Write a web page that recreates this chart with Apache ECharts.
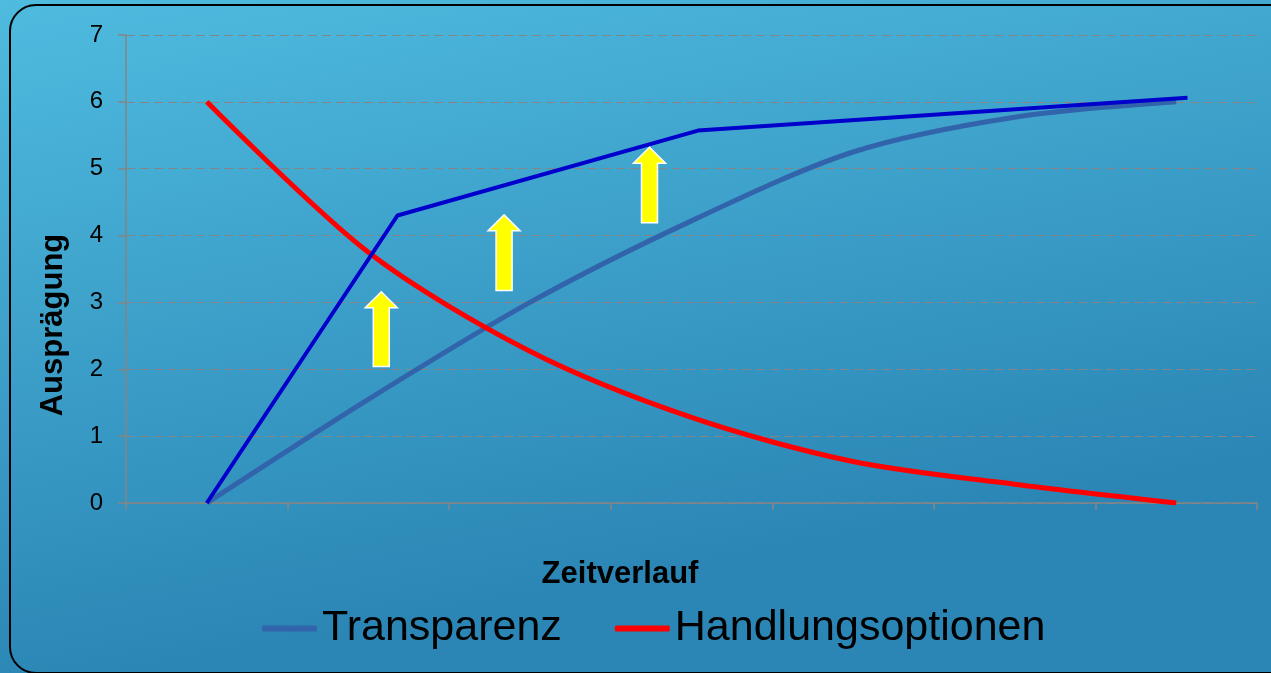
<!DOCTYPE html>
<html>
<head>
<meta charset="utf-8">
<script src="https://cdn.jsdelivr.net/npm/echarts@6/dist/echarts.min.js"></script>
<style>
  html, body { margin: 0; padding: 0; }
  #chart { width: 1271px; height: 673px; }
</style>
</head>
<body>
<div id="chart"></div>
<script>
// Zeitpunkte (ohne Beschriftung)
const categories = ['1', '2', '3', '4', '5', '6', '7']
const transparenz = [0, 1.55, 3.0, 4.22, 5.25, 5.77, 6.0]
const handlungsoptionen = [6, 3.75, 2.27, 1.28, 0.62, 0.28, 0]
// blaue Hilfslinie, x in Kategorie-Einheiten (0 = erster Zeitpunkt)
const zielLinie = [[0, 0], [1.18, 4.3], [3.04, 5.57], [6.07, 6.06]]
// gelbe Pfeile: [x, unten, oben]
const pfeile = [[1.08, 2.04, 3.16], [1.84, 3.18, 4.31], [2.74, 4.19, 5.32]]
const yTicks = { min: 0, max: 7, interval: 1 }

const chart = echarts.init(document.getElementById('chart'))

const grau = '#858585'

chart.setOption({
  animation: false,
  backgroundColor: {
    type: 'linear', x: 0, y: 0, x2: 0.1, y2: 1,
    colorStops: [
      { offset: 0, color: '#4fbbdf' },
      { offset: 1, color: '#2b86b5' }
    ]
  },
  textStyle: { fontFamily: 'Liberation Sans, Arial, sans-serif' },
  graphic: [
    {
      type: 'rect',
      shape: { x: 10, y: 5, width: 1300, height: 668, r: 26 },
      style: { fill: 'none', stroke: '#000', lineWidth: 2 },
      silent: true
    },
    {
      type: 'text',
      x: 620, y: 574,
      style: {
        text: 'Zeitverlauf', fill: '#000', font: 'bold 31px Liberation Sans',
        align: 'center', verticalAlign: 'middle'
      }
    },
    {
      type: 'text',
      x: 53, y: 325,
      rotation: Math.PI / 2,
      style: {
        text: 'Ausprägung', fill: '#000', font: 'bold 31px Liberation Sans',
        align: 'center', verticalAlign: 'middle'
      }
    }
  ],
  grid: { left: 126, right: 14, top: 35, bottom: 170 },
  legend: {
    left: 262,
    top: 607,
    padding: 0,
    itemWidth: 55,
    itemHeight: 6,
    itemGap: 53,
    icon: 'roundRect',
    data: ['Transparenz', 'Handlungsoptionen'],
    textStyle: { fontSize: 43, color: '#000' }
  },
  xAxis: [
    {
      type: 'category',
      position: 'bottom',
      data: categories,
      boundaryGap: true,
      axisLine: { show: true, onZero: false, lineStyle: { color: grau, width: 1.5 } },
      axisTick: { show: true, length: 7, lineStyle: { color: grau, width: 1.5 } },
      axisLabel: { show: false },
      splitLine: { show: false }
    },
    {
      type: 'value',
      position: 'top',
      min: -0.5,
      max: 6.5,
      axisLine: { show: false, onZero: false },
      axisTick: { show: false },
      axisLabel: { show: false },
      splitLine: { show: false }
    }
  ],
  yAxis: {
    type: 'value',
    position: 'left',
    min: yTicks.min,
    max: yTicks.max,
    interval: yTicks.interval,
    axisLine: { show: true, onZero: false, lineStyle: { color: grau, width: 1.5 } },
    axisTick: { show: true, length: 8, lineStyle: { color: grau, width: 1.5 } },
    axisLabel: { fontSize: 24, color: '#000', margin: 23 },
    splitLine: { lineStyle: { color: grau, type: [9, 5], width: 1 } }
  },
  series: [
    {
      name: 'Transparenz',
      type: 'line',
      data: transparenz,
      smooth: 0.3,
      symbol: 'none',
      itemStyle: { color: '#3164ab' },
      lineStyle: { color: '#3164ab', width: 5 },
      z: 3
    },
    {
      name: 'Handlungsoptionen',
      type: 'line',
      data: handlungsoptionen,
      smooth: 0.3,
      symbol: 'none',
      itemStyle: { color: '#ff0000' },
      lineStyle: { color: '#ff0000', width: 5 },
      z: 4
    },
    {
      name: 'Ziel',
      type: 'line',
      xAxisIndex: 1,
      data: zielLinie,
      symbol: 'none',
      lineStyle: { color: '#0000cc', width: 4 },
      z: 5
    },
    {
      name: 'Pfeile',
      type: 'custom',
      xAxisIndex: 1,
      coordinateSystem: 'cartesian2d',
      encode: { x: 0, y: [1, 2] },
      data: pfeile,
      z: 6,
      renderItem: function (params, api) {
        const b = api.coord([api.value(0), api.value(1)])
        const t = api.coord([api.value(0), api.value(2)])
        const x = b[0]
        const s = 8, h = 16, k = 16
        return {
          type: 'polygon',
          shape: {
            points: [
              [x - s, b[1]], [x - s, t[1] + k], [x - h, t[1] + k], [x, t[1]],
              [x + h, t[1] + k], [x + s, t[1] + k], [x + s, b[1]]
            ]
          },
          style: { fill: '#ffff00', stroke: '#ffffff', lineWidth: 1.5 }
        }
      }
    }
  ]
})
</script>
</body>
</html>
